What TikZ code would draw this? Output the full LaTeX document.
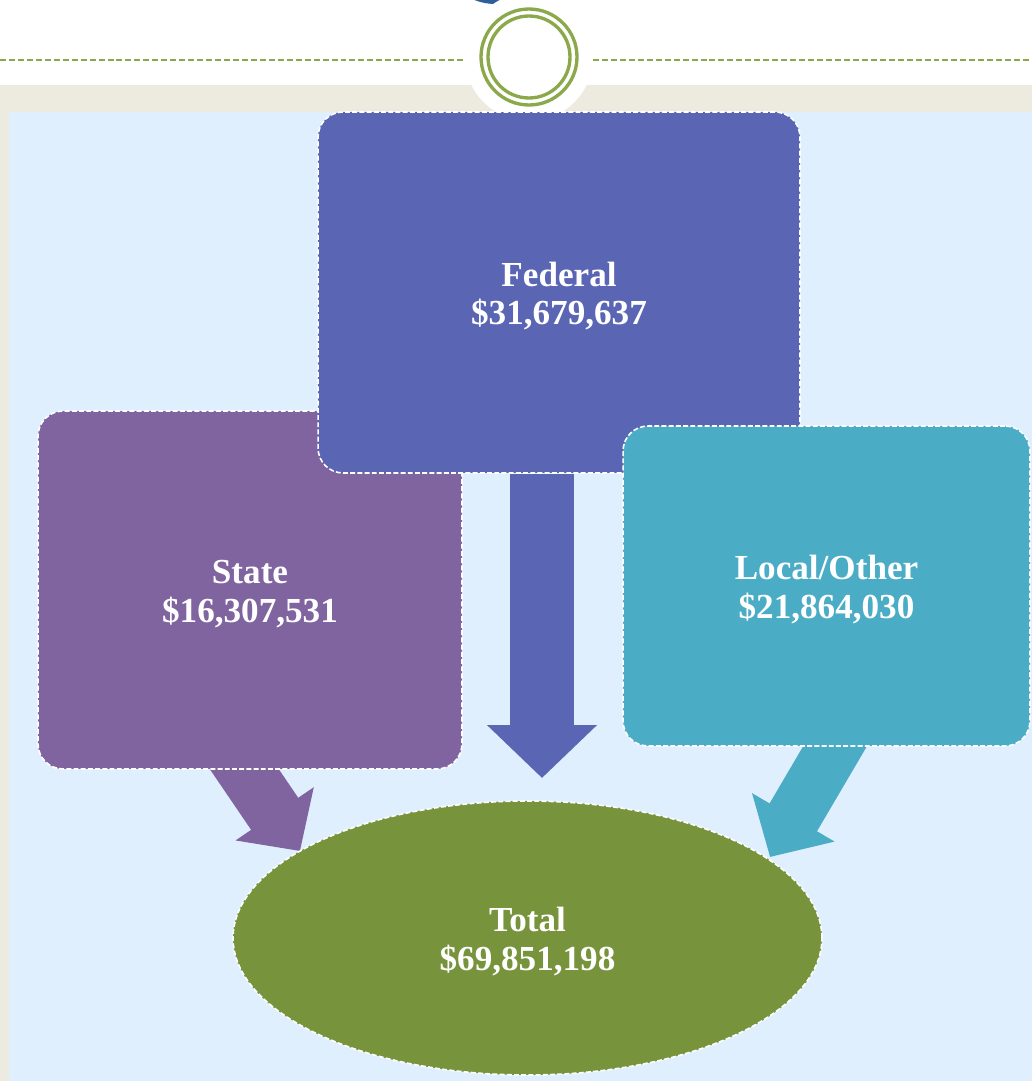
\documentclass[tikz,border=0pt]{standalone}
\usepackage{fontspec}
\setmainfont{Liberation Serif}
\usepackage{tikz}
\usetikzlibrary{positioning}
\usetikzlibrary{shapes.geometric, arrows.meta}
\definecolor{myfed}{RGB}{90,102,179}
\definecolor{mysta}{RGB}{128,100,160}
\definecolor{myloc}{RGB}{75,172,198}
\definecolor{mytot}{RGB}{119,147,60}
\definecolor{mygre1}{RGB}{139,168,74}
\definecolor{mybei1}{RGB}{237,235,224}
\definecolor{myblu1}{RGB}{224,239,253}
\definecolor{myblu2}{RGB}{47,95,152}
\pgfdeclarelayer{back}
\pgfsetlayers{back,main}
\newcommand{\toprow}[1]{\raisebox{0pt}[18pt]{#1}}
\tikzstyle{fund} = [rectangle, rounded corners=0.5cm, draw=white, line width=0.9pt, dash pattern=on 2.8pt off 1.3pt, text=white, align=center, inner sep=0pt, font=\bfseries\fontsize{20}{22}\selectfont]
\tikzstyle{sum} = [ellipse, draw=white, line width=0.9pt, dash pattern=on 2.8pt off 1.3pt, text=white, align=center, inner sep=0pt, font=\bfseries\fontsize{20}{22}\selectfont]
\tikzstyle{fedflow} = [myfed, line width=1.28cm, -{Triangle[length=1.06cm, width=2.14cm]}]
\tikzstyle{staflow} = [mysta, line width=1.14cm, -{Triangle[length=0.9cm, width=1.84cm]}]
\tikzstyle{locflow} = [myloc, line width=1.1cm, -{Triangle[length=0.92cm, width=1.86cm]}]
\tikzstyle{rule} = [mygre1, line width=1.1pt, dash pattern=on 3.4pt off 1.7pt]
\tikzstyle{ring} = [mygre1, line width=1.9pt]

\begin{document}
\begin{tikzpicture}[x=0.02cm, y=-0.02cm]
	\useasboundingbox (0,0) rectangle (1032,1081);
	\begin{pgfonlayer}{back}
	\fill[white] (0,0) rectangle (1032,1081);
	\fill[mybei1] (0,85) rectangle (1032,1081);
	\fill[myblu1] (9,112) rectangle (1032,1081);
	\begin{scope}
	\clip (0,0) rectangle (1032,1081);
	\draw[myblu2, line width=2.4pt] (497,-20) ellipse [x radius=38, y radius=22];
	\end{scope}
	\fill[white] (529,57) circle [radius=64];
	\end{pgfonlayer}
	% header
	\draw[rule] (0,60) -- (463,60);
	\draw[rule] (593,60) -- (1032,60);
	\draw[ring] (529,57) circle [radius=48];
	\draw[ring] (529,57) circle [radius=41];
	% boxes
	\node (state)[fund, fill=mysta, minimum width=8.48cm, minimum height=7.16cm] at (250,590) {\toprow{State}\\\$16,307,531};
	\node (fed)[fund, fill=myfed, minimum width=9.64cm, minimum height=7.22cm] at (559,292.5) {\toprow{Federal}\\\$31,679,637};
	\node (local)[fund, fill=myloc, minimum width=8.14cm, minimum height=6.4cm] at (826.5,586) {\toprow{Local/Other}\\\$21,864,030};
	\node (total)[sum, fill=mytot, minimum width=11.78cm, minimum height=5.48cm] at (527.5,938) {\toprow{Total}\\\$69,851,198};
	% arrows
	\coordinate (ftip) at (542,778);
	\coordinate (stail) at (187,685);
	\coordinate (stip) at (300,851);
	\coordinate (ltail) at (871,685);
	\coordinate (ltip) at (770,857);
	\begin{pgfonlayer}{back}
	\draw [fedflow] (fed.south -| ftip) -- (ftip);
	\draw [staflow] (stail) -- (stip);
	\draw [locflow] (ltail) -- (ltip);
	\end{pgfonlayer}
\end{tikzpicture}
\end{document}
